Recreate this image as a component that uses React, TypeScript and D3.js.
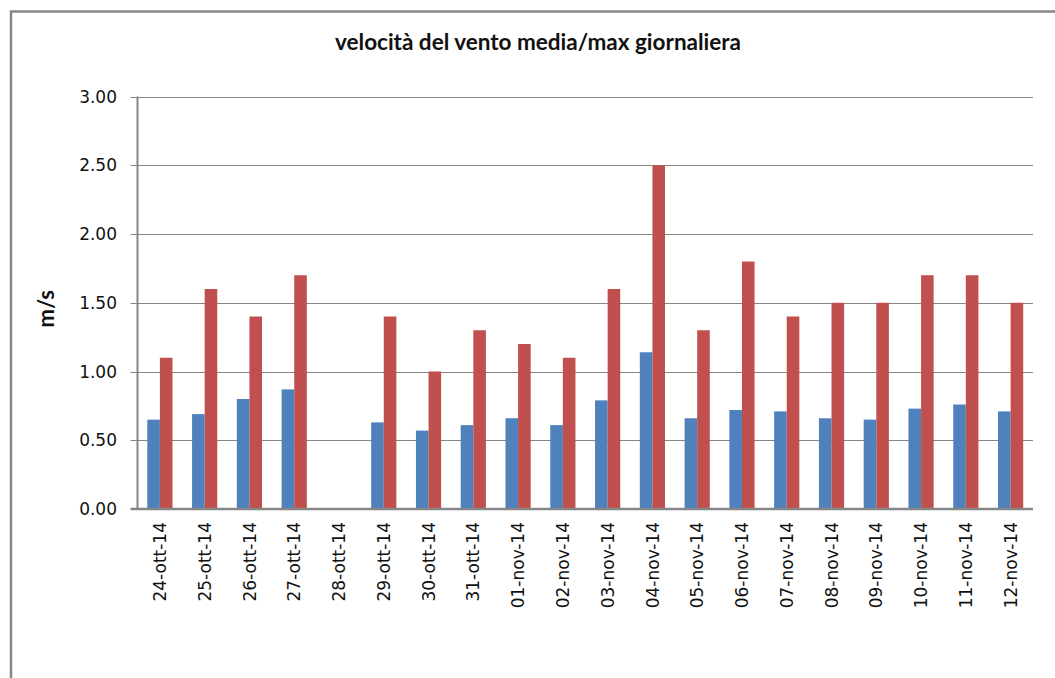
import * as d3 from "d3";
import { useEffect, useRef } from "react";

const days = [
  "24-ott-14", "25-ott-14", "26-ott-14", "27-ott-14", "28-ott-14", "29-ott-14",
  "30-ott-14", "31-ott-14", "01-nov-14", "02-nov-14", "03-nov-14", "04-nov-14",
  "05-nov-14", "06-nov-14", "07-nov-14", "08-nov-14", "09-nov-14", "10-nov-14",
  "11-nov-14", "12-nov-14",
];
// media (blue)
const media: (number | null)[] = [
  0.65, 0.69, 0.80, 0.87, null, 0.63, 0.57, 0.61, 0.66, 0.61,
  0.79, 1.14, 0.66, 0.72, 0.71, 0.66, 0.65, 0.73, 0.76, 0.71,
];
// max (red)
const massima: (number | null)[] = [
  1.1, 1.6, 1.4, 1.7, null, 1.4, 1.0, 1.3, 1.2, 1.1,
  1.6, 2.5, 1.3, 1.8, 1.4, 1.5, 1.5, 1.7, 1.7, 1.5,
];
const yTicks = [0, 0.5, 1, 1.5, 2, 2.5, 3];
const seriesNames = ["media", "max"];
const seriesColors = ["#4F81BD", "#C0504D"];

export default function App() {
  const svgRef = useRef<SVGSVGElement | null>(null);

  useEffect(() => {
    const width = 1055;
    const height = 678;
    const svg = d3.select(svgRef.current).attr("width", width).attr("height", height);
    svg.selectAll("*").remove();

    const left = 137.5, right = 1033, top = 96.5, bottom = 509;

    // chart frame
    svg.append("rect")
      .attr("x", 11).attr("y", 11.5)
      .attr("width", width + 20).attr("height", height + 20)
      .attr("fill", "white").attr("stroke", "#868686").attr("stroke-width", 2.5);

    const x0 = d3.scaleBand<string>().domain(days).range([left, right])
      .paddingInner(0.4375).paddingOuter(0.21875);
    const x1 = d3.scaleBand<string>().domain(seriesNames).range([0, x0.bandwidth()]);
    const y = d3.scaleLinear().domain([0, 3]).range([bottom, top]);

    // gridlines + ticks
    svg.append("g").selectAll("line").data(yTicks.filter(t => t > 0)).join("line")
      .attr("x1", left - 7).attr("x2", right)
      .attr("y1", d => Math.round(y(d)) + 0.5).attr("y2", d => Math.round(y(d)) + 0.5)
      .attr("stroke", "#868686").attr("stroke-width", 1);

    svg.append("g").selectAll("text").data(yTicks).join("text")
      .attr("x", 117).attr("y", d => y(d))
      .attr("dy", "0.36em")
      .attr("text-anchor", "end")
      .attr("font-family", "DejaVu Sans")
      .attr("font-size", 17)
      .attr("fill", "#111")
      .text(d => d3.format(".2f")(d));

    // bars
    const series = [media, massima];
    series.forEach((vals, si) => {
      svg.append("g").selectAll("rect")
        .data(days.map((d, i) => ({ d, v: vals[i] })).filter(e => e.v !== null))
        .join("rect")
        .attr("x", e => (x0(e.d) ?? 0) + (x1(seriesNames[si]) ?? 0))
        .attr("width", x1.bandwidth())
        .attr("y", e => y(e.v as number))
        .attr("height", e => y(0) - y(e.v as number))
        .attr("fill", seriesColors[si]);
    });

    // axes
    svg.append("line")
      .attr("x1", left).attr("x2", left).attr("y1", top).attr("y2", bottom)
      .attr("stroke", "#868686").attr("stroke-width", 2);
    svg.append("line")
      .attr("x1", left - 7).attr("x2", right).attr("y1", bottom).attr("y2", bottom)
      .attr("stroke", "#868686").attr("stroke-width", 2.5);

    // category labels
    svg.append("g").selectAll("text").data(days).join("text")
      .attr("transform", d => `translate(${(x0(d) ?? 0) + x0.bandwidth() / 2},522) rotate(-90)`)
      .attr("dy", "0.36em")
      .attr("text-anchor", "end")
      .attr("font-family", "DejaVu Sans")
      .attr("font-size", 17)
      .attr("fill", "#111")
      .text(d => d);

    // title
    svg.append("text")
      .attr("x", 538).attr("y", 50)
      .attr("text-anchor", "middle")
      .attr("font-family", "Lato")
      .attr("font-weight", 700)
      .attr("font-size", 22.5)
      .attr("fill", "#111")
      .text("velocità del vento media/max giornaliera");

    // y axis title
    svg.append("text")
      .attr("transform", `translate(46,${(top + bottom) / 2 + 6}) rotate(-90)`)
      .attr("dy", "0.36em")
      .attr("text-anchor", "middle")
      .attr("font-family", "Lato")
      .attr("font-weight", 700)
      .attr("font-size", 22)
      .attr("fill", "#111")
      .text("m/s");
  }, []);

  return (
    <div>
      <svg ref={svgRef} style={{ position: "absolute", left: 0, top: 0 }}></svg>
    </div>
  );
}
